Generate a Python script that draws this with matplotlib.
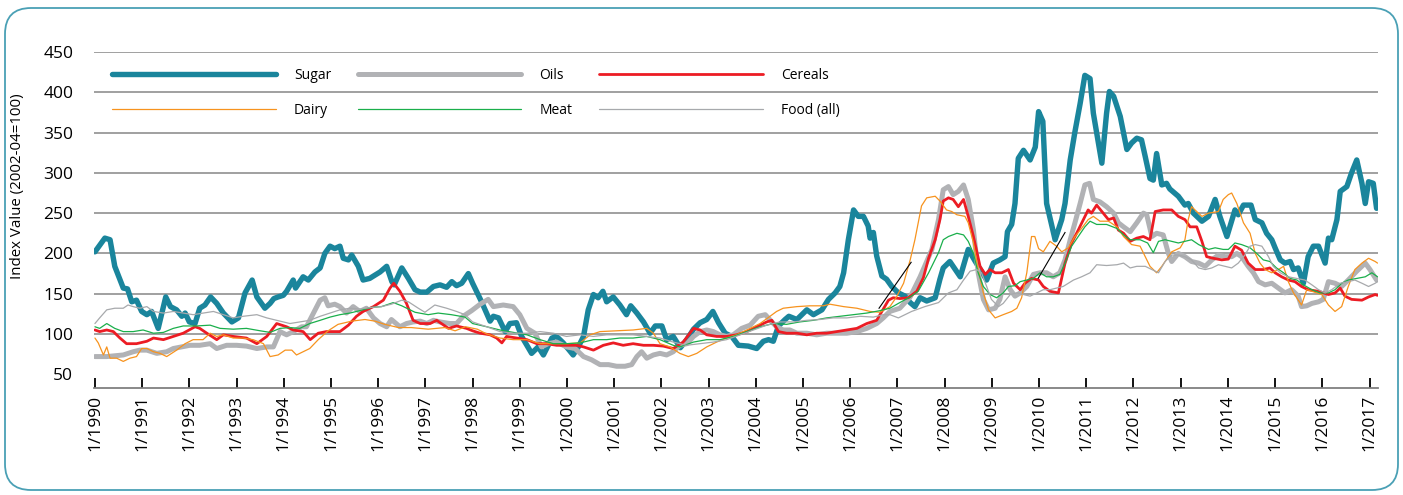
import matplotlib
matplotlib.use('Agg')
import matplotlib.pyplot as plt
from matplotlib.patches import FancyBboxPatch
from matplotlib.transforms import IdentityTransform

plt.rcParams['font.family'] = ['Open Sans', 'DejaVu Sans']

# x ticks: January of each year
years = list(range(1990, 2018))
year_labels = ['1/%d' % y for y in years]

# series (decimal year, index value)
sugar_t = [1990.0, 1990.21, 1990.32, 1990.42, 1990.6, 1990.69, 1990.78, 1990.88, 1990.99, 1991.1, 1991.2, 1991.34,
           1991.5, 1991.6, 1991.73, 1991.84, 1991.91, 1992.0, 1992.12, 1992.22, 1992.33, 1992.45, 1992.58, 1992.72,
           1992.9, 1993.04, 1993.18, 1993.33, 1993.43, 1993.6, 1993.71, 1993.79, 1993.88, 1993.99, 1994.06, 1994.2,
           1994.25, 1994.41, 1994.52, 1994.66, 1994.77, 1994.87, 1994.98, 1995.08, 1995.19, 1995.26, 1995.37, 1995.44,
           1995.58, 1995.68, 1995.82, 1996.04, 1996.18, 1996.29, 1996.34, 1996.5, 1996.64, 1996.78, 1996.89, 1997.03,
           1997.17, 1997.31, 1997.45, 1997.56, 1997.66, 1997.77, 1997.91, 1998.0, 1998.19, 1998.37, 1998.44, 1998.55,
           1998.69, 1998.79, 1998.93, 1999.04, 1999.25, 1999.39, 1999.5, 1999.68, 1999.78, 1999.92, 2000.13, 2000.24,
           2000.35, 2000.45, 2000.56, 2000.66, 2000.76, 2000.84, 2000.98, 2001.12, 2001.26, 2001.35, 2001.48, 2001.62,
           2001.76, 2001.87, 2002.01, 2002.11, 2002.25, 2002.4, 2002.54, 2002.68, 2002.82, 2002.96, 2003.09, 2003.21,
           2003.35, 2003.49, 2003.63, 2003.84, 2004.02, 2004.16, 2004.27, 2004.37, 2004.48, 2004.62, 2004.7, 2004.87,
           2005.08, 2005.22, 2005.4, 2005.54, 2005.68, 2005.78, 2005.86, 2005.96, 2006.07, 2006.17, 2006.28, 2006.38,
           2006.42, 2006.49, 2006.56, 2006.67, 2006.77, 2006.88, 2007.02, 2007.16, 2007.27, 2007.37, 2007.48, 2007.62,
           2007.8, 2007.9, 2007.97, 2008.11, 2008.33, 2008.5, 2008.65, 2008.89, 2009.03, 2009.17, 2009.28, 2009.33,
           2009.42, 2009.49, 2009.56, 2009.67, 2009.81, 2009.92, 2009.99, 2010.08, 2010.16, 2010.34, 2010.48, 2010.55,
           2010.66, 2010.76, 2010.87, 2010.97, 2011.08, 2011.15, 2011.33, 2011.43, 2011.49, 2011.58, 2011.72, 2011.86,
           2011.96, 2012.07, 2012.17, 2012.25, 2012.35, 2012.42, 2012.49, 2012.6, 2012.7, 2012.77, 2012.95, 2013.09,
           2013.16, 2013.27, 2013.45, 2013.59, 2013.73, 2013.83, 2013.98, 2014.15, 2014.22, 2014.33, 2014.49, 2014.58,
           2014.72, 2014.82, 2014.93, 2015.0, 2015.11, 2015.21, 2015.32, 2015.39, 2015.49, 2015.6, 2015.7, 2015.81,
           2015.92, 2016.06, 2016.13, 2016.2, 2016.31, 2016.38, 2016.52, 2016.62, 2016.73, 2016.84, 2016.91, 2016.98,
           2017.08, 2017.15]
sugar_v = [202, 219, 217, 184, 157, 156, 140, 142, 128, 124, 128, 107,
           146, 134, 130, 122, 126, 115, 113, 132, 136, 146, 138, 126,
           115, 120, 151, 167, 146, 132, 138, 144, 146, 148, 153, 167,
           157, 171, 167, 177, 182, 200, 209, 206, 209, 194, 192, 198,
           184, 167, 169, 177, 184, 165, 161, 182, 169, 155, 152, 152,
           159, 161, 158, 165, 160, 163, 175, 163, 140, 116, 122, 120,
           103, 113, 114, 97, 76, 84, 74, 95, 97, 89, 74, 84,
           97, 130, 149, 145, 153, 140, 146, 136, 124, 135, 126, 115,
           101, 110, 110, 93, 97, 83, 93, 106, 114, 118, 128, 114,
           101, 97, 86, 85, 82, 91, 93, 91, 110, 118, 122, 118,
           130, 124, 130, 143, 151, 159, 176, 217, 254, 246, 246, 234,
           219, 226, 197, 172, 168, 159, 151, 147, 139, 134, 145, 141,
           145, 168, 182, 190, 171, 205, 190, 167, 188, 192, 196, 227,
           236, 262, 318, 328, 316, 332, 376, 364, 262, 217, 242, 262,
           316, 351, 386, 421, 417, 374, 312, 374, 401, 395, 370, 329,
           337, 343, 341, 320, 293, 291, 324, 285, 287, 280, 271, 260,
           262, 250, 240, 246, 267, 246, 221, 254, 248, 260, 260, 242,
           238, 225, 217, 207, 192, 188, 190, 180, 182, 163, 196, 209,
           209, 188, 219, 217, 242, 277, 283, 300, 316, 287, 262, 289,
           287, 256]

oils_t = [1990.0, 1990.25, 1990.42, 1990.6, 1990.81, 1990.95, 1991.1, 1991.31, 1991.52, 1991.66, 1991.84, 1992.01,
          1992.22, 1992.44, 1992.58, 1992.79, 1993.0, 1993.21, 1993.43, 1993.64, 1993.78, 1993.92, 1994.06, 1994.2,
          1994.38, 1994.48, 1994.63, 1994.77, 1994.87, 1994.94, 1995.08, 1995.19, 1995.33, 1995.47, 1995.61, 1995.75,
          1995.9, 1996.04, 1996.18, 1996.28, 1996.46, 1996.6, 1996.74, 1996.89, 1997.03, 1997.17, 1997.31, 1997.52,
          1997.66, 1997.8, 1997.98, 1998.16, 1998.33, 1998.44, 1998.65, 1998.86, 1999.0, 1999.15, 1999.32, 1999.46,
          1999.6, 1999.78, 1999.99, 2000.17, 2000.35, 2000.52, 2000.7, 2000.88, 2001.05, 2001.23, 2001.37, 2001.48,
          2001.58, 2001.69, 2001.83, 2001.97, 2002.11, 2002.25, 2002.39, 2002.54, 2002.68, 2002.82, 2002.96, 2003.1,
          2003.24, 2003.38, 2003.52, 2003.7, 2003.88, 2004.05, 2004.2, 2004.34, 2004.44, 2004.58, 2004.72, 2004.87,
          2005.08, 2005.29, 2005.5, 2005.71, 2005.93, 2006.14, 2006.35, 2006.56, 2006.7, 2006.84, 2007.05, 2007.27,
          2007.48, 2007.73, 2007.87, 2007.97, 2008.08, 2008.18, 2008.29, 2008.4, 2008.5, 2008.61, 2008.71, 2008.82,
          2008.93, 2009.07, 2009.17, 2009.28, 2009.39, 2009.49, 2009.6, 2009.74, 2009.88, 2010.02, 2010.16, 2010.3,
          2010.44, 2010.55, 2010.66, 2010.76, 2010.87, 2010.97, 2011.07, 2011.15, 2011.29, 2011.43, 2011.58, 2011.68,
          2011.79, 2011.93, 2012.07, 2012.21, 2012.28, 2012.39, 2012.49, 2012.63, 2012.74, 2012.81, 2012.95, 2013.09,
          2013.23, 2013.38, 2013.52, 2013.66, 2013.8, 2013.94, 2014.08, 2014.19, 2014.29, 2014.43, 2014.54, 2014.65,
          2014.79, 2014.93, 2015.07, 2015.21, 2015.35, 2015.49, 2015.56, 2015.67, 2015.78, 2015.92, 2016.02, 2016.13,
          2016.27, 2016.41, 2016.55, 2016.73, 2016.91, 2017.01, 2017.15]
oils_v = [72, 72, 73, 74, 78, 80, 80, 76, 78, 82, 84, 86,
          86, 88, 82, 86, 86, 85, 82, 84, 84, 103, 99, 103,
          109, 109, 126, 142, 145, 135, 137, 134, 126, 134, 128, 132,
          120, 113, 109, 118, 109, 113, 115, 116, 113, 117, 115, 113,
          113, 122, 129, 137, 143, 134, 136, 134, 124, 107, 101, 84,
          88, 90, 84, 82, 72, 68, 62, 62, 60, 60, 62, 72,
          78, 70, 74, 76, 74, 78, 86, 88, 97, 103, 105, 103,
          99, 97, 99, 107, 111, 122, 124, 115, 109, 105, 105, 101,
          101, 99, 101, 101, 101, 103, 107, 113, 120, 128, 132, 146,
          171, 205, 242, 279, 283, 273, 277, 285, 267, 229, 176, 143,
          130, 132, 143, 171, 155, 147, 151, 159, 174, 176, 176, 171,
          176, 192, 217, 238, 262, 285, 287, 267, 264, 258, 250, 238,
          233, 227, 238, 250, 248, 221, 225, 223, 200, 190, 200, 196,
          190, 188, 184, 192, 198, 196, 196, 200, 196, 184, 176, 165,
          161, 163, 157, 151, 155, 147, 134, 135, 138, 140, 143, 165,
          163, 159, 167, 178, 188, 180, 167]

cereals_t = [1990.0, 1990.1, 1990.25, 1990.39, 1990.53, 1990.67, 1990.88, 1991.1, 1991.24, 1991.45, 1991.66, 1991.87,
             1992.12, 1992.22, 1992.37, 1992.58, 1992.72, 1992.93, 1993.21, 1993.43, 1993.64, 1993.85, 1994.06, 1994.2,
             1994.41, 1994.56, 1994.73, 1994.9, 1995.19, 1995.37, 1995.54, 1995.68, 1995.9, 1996.11, 1996.25, 1996.33,
             1996.46, 1996.6, 1996.74, 1996.89, 1997.1, 1997.24, 1997.49, 1997.66, 1997.87, 1998.0, 1998.16, 1998.37,
             1998.51, 1998.62, 1998.72, 1998.93, 1999.15, 1999.36, 1999.57, 1999.78, 2000.0, 2000.2, 2000.35, 2000.56,
             2000.77, 2000.98, 2001.19, 2001.4, 2001.62, 2001.83, 2002.04, 2002.25, 2002.46, 2002.68, 2002.82, 2002.96,
             2003.17, 2003.38, 2003.59, 2003.81, 2004.02, 2004.23, 2004.34, 2004.48, 2004.65, 2004.87, 2005.08, 2005.29,
             2005.5, 2005.71, 2005.93, 2006.14, 2006.35, 2006.56, 2006.67, 2006.81, 2006.91, 2007.05, 2007.23, 2007.41,
             2007.55, 2007.66, 2007.8, 2007.9, 2007.97, 2008.08, 2008.18, 2008.29, 2008.4, 2008.5, 2008.61, 2008.75,
             2008.86, 2008.96, 2009.07, 2009.21, 2009.35, 2009.46, 2009.6, 2009.7, 2009.84, 2009.99, 2010.09, 2010.23,
             2010.41, 2010.55, 2010.69, 2010.83, 2010.94, 2011.04, 2011.11, 2011.22, 2011.36, 2011.47, 2011.58, 2011.68,
             2011.79, 2011.93, 2012.07, 2012.21, 2012.35, 2012.46, 2012.63, 2012.81, 2012.95, 2013.09, 2013.2, 2013.34,
             2013.45, 2013.55, 2013.69, 2013.87, 2014.01, 2014.15, 2014.29, 2014.43, 2014.58, 2014.75, 2014.89, 2015.0,
             2015.14, 2015.28, 2015.42, 2015.56, 2015.7, 2015.92, 2016.13, 2016.27, 2016.38, 2016.48, 2016.62, 2016.84,
             2016.98, 2017.12, 2017.17]
cereals_v = [105, 103, 105, 103, 95, 88, 88, 91, 95, 93, 97, 101,
             109, 107, 101, 93, 99, 97, 95, 88, 97, 113, 109, 105,
             103, 93, 101, 103, 103, 111, 122, 128, 134, 142, 157, 163,
             153, 138, 117, 113, 113, 117, 107, 110, 107, 104, 101, 99,
             95, 89, 97, 95, 93, 88, 88, 86, 86, 86, 84, 80,
             86, 89, 86, 88, 86, 86, 85, 82, 90, 107, 105, 99,
             97, 97, 99, 103, 109, 115, 117, 103, 101, 101, 99, 101,
             101, 103, 105, 107, 113, 117, 128, 142, 145, 144, 145, 153,
             170, 194, 217, 242, 265, 269, 267, 258, 267, 246, 221, 184,
             174, 180, 176, 176, 180, 163, 155, 163, 169, 167, 159, 153,
             151, 188, 213, 229, 242, 254, 250, 260, 250, 242, 244, 229,
             225, 215, 219, 221, 217, 252, 254, 254, 246, 242, 233, 233,
             215, 196, 194, 192, 193, 209, 204, 188, 180, 180, 182, 176,
             171, 167, 165, 159, 155, 153, 149, 151, 157, 147, 143, 142,
             146, 149, 148]

dairy_t = [1990.0, 1990.07, 1990.18, 1990.25, 1990.32, 1990.46, 1990.6, 1990.74, 1990.88, 1990.99, 1991.1, 1991.24,
           1991.38, 1991.52, 1991.73, 1991.91, 1992.08, 1992.29, 1992.44, 1992.58, 1992.72, 1992.93, 1993.14, 1993.35,
           1993.57, 1993.71, 1993.88, 1994.03, 1994.17, 1994.27, 1994.41, 1994.55, 1994.73, 1994.94, 1995.15, 1995.44,
           1995.72, 1995.93, 1996.14, 1996.43, 1996.7, 1997.06, 1997.41, 1997.63, 1997.85, 1998.1, 1998.3, 1998.58,
           1998.86, 1999.15, 1999.43, 1999.71, 1999.99, 2000.28, 2000.49, 2000.7, 2001.05, 2001.4, 2001.69, 2001.83,
           2001.97, 2002.18, 2002.39, 2002.57, 2002.75, 2002.96, 2003.17, 2003.38, 2003.59, 2003.88, 2004.09, 2004.3,
           2004.44, 2004.58, 2004.87, 2005.15, 2005.43, 2005.57, 2005.86, 2006.14, 2006.42, 2006.63, 2006.84, 2006.98,
           2007.13, 2007.27, 2007.37, 2007.51, 2007.62, 2007.8, 2007.9, 2008.04, 2008.15, 2008.26, 2008.43, 2008.5,
           2008.61, 2008.71, 2008.82, 2008.93, 2009.07, 2009.24, 2009.42, 2009.53, 2009.63, 2009.74, 2009.84, 2009.91,
           2009.99, 2010.09, 2010.23, 2010.37, 2010.48, 2010.62, 2010.76, 2010.9, 2011.04, 2011.15, 2011.29, 2011.47,
           2011.65, 2011.79, 2011.96, 2012.14, 2012.25, 2012.35, 2012.49, 2012.6, 2012.74, 2012.81, 2012.99, 2013.09,
           2013.16, 2013.23, 2013.34, 2013.45, 2013.59, 2013.8, 2013.9, 2014.01, 2014.08, 2014.19, 2014.33, 2014.47,
           2014.58, 2014.68, 2014.79, 2014.93, 2015.07, 2015.18, 2015.28, 2015.39, 2015.56, 2015.67, 2015.78, 2015.99,
           2016.13, 2016.27, 2016.41, 2016.55, 2016.69, 2016.84, 2016.98, 2017.12, 2017.17]
dairy_v = [95, 89, 74, 84, 70, 70, 66, 70, 72, 82, 82, 78,
           76, 72, 80, 88, 93, 93, 101, 97, 99, 95, 95, 93,
           88, 72, 74, 80, 80, 74, 78, 82, 93, 104, 112, 116,
           118, 116, 112, 108, 108, 106, 108, 104, 109, 106, 100, 95,
           93, 93, 88, 88, 88, 89, 99, 103, 104, 105, 107, 101,
           88, 84, 76, 72, 76, 84, 90, 95, 99, 107, 113, 122,
           128, 132, 134, 135, 135, 137, 134, 132, 128, 127, 134, 146,
           163, 192, 217, 259, 269, 271, 265, 254, 252, 248, 246, 238,
           213, 180, 151, 130, 120, 124, 128, 132, 145, 176, 221, 221,
           206, 202, 215, 209, 202, 207, 221, 231, 242, 246, 240, 240,
           233, 221, 211, 209, 196, 184, 176, 184, 196, 202, 207, 217,
           242, 258, 252, 246, 250, 252, 267, 273, 275, 262, 238, 225,
           200, 188, 180, 176, 180, 184, 165, 151, 136, 155, 153, 149,
           136, 128, 134, 159, 180, 188, 194, 190, 188]

meat_t = [1990.0, 1990.1, 1990.25, 1990.42, 1990.6, 1990.81, 1991.02, 1991.24, 1991.45, 1991.66, 1991.87, 1992.15,
          1992.44, 1992.65, 1992.93, 1993.21, 1993.5, 1993.71, 1993.92, 1994.13, 1994.34, 1994.55, 1994.77, 1994.98,
          1995.19, 1995.4, 1995.61, 1995.86, 1996.07, 1996.32, 1996.5, 1996.78, 1997.06, 1997.27, 1997.55, 1997.84,
          1998.0, 1998.3, 1998.58, 1998.86, 1999.15, 1999.43, 1999.71, 1999.99, 2000.28, 2000.56, 2000.84, 2001.12,
          2001.4, 2001.69, 2001.97, 2002.25, 2002.39, 2002.68, 2002.96, 2003.24, 2003.52, 2003.81, 2004.09, 2004.37,
          2004.65, 2004.93, 2005.22, 2005.5, 2005.78, 2006.07, 2006.35, 2006.63, 2006.84, 2007.05, 2007.27, 2007.44,
          2007.66, 2007.87, 2007.97, 2008.08, 2008.26, 2008.4, 2008.5, 2008.61, 2008.71, 2008.82, 2008.96, 2009.1,
          2009.24, 2009.35, 2009.49, 2009.6, 2009.74, 2009.88, 2010.02, 2010.16, 2010.3, 2010.44, 2010.55, 2010.69,
          2010.83, 2010.97, 2011.08, 2011.22, 2011.43, 2011.65, 2011.79, 2011.93, 2012.14, 2012.3, 2012.42, 2012.53,
          2012.67, 2012.95, 2013.09, 2013.23, 2013.38, 2013.59, 2013.73, 2013.9, 2014.01, 2014.15, 2014.29, 2014.47,
          2014.61, 2014.75, 2014.89, 2015.03, 2015.18, 2015.32, 2015.46, 2015.6, 2015.78, 2015.95, 2016.13, 2016.27,
          2016.41, 2016.55, 2016.73, 2016.91, 2017.05, 2017.17]
meat_v = [109, 107, 113, 107, 103, 103, 105, 101, 102, 107, 110, 110,
          111, 107, 106, 107, 104, 102, 107, 108, 107, 113, 117, 121,
          124, 126, 129, 133, 134, 139, 135, 127, 124, 126, 124, 121,
          113, 109, 105, 102, 99, 93, 88, 88, 89, 93, 93, 95,
          95, 97, 93, 86, 84, 90, 93, 93, 97, 103, 109, 113,
          112, 115, 117, 120, 122, 124, 126, 129, 132, 139, 146, 153,
          176, 201, 217, 221, 225, 223, 215, 200, 176, 159, 149, 145,
          151, 159, 160, 165, 167, 169, 176, 171, 171, 174, 188, 209,
          221, 233, 240, 236, 236, 231, 223, 217, 217, 213, 201, 215,
          217, 213, 215, 217, 211, 205, 207, 205, 205, 213, 211, 207,
          200, 192, 190, 182, 176, 169, 167, 161, 155, 151, 151, 155,
          163, 167, 169, 171, 176, 171]

food_t = [1990.0, 1990.1, 1990.25, 1990.42, 1990.6, 1990.7, 1990.81, 1990.95, 1991.1, 1991.24, 1991.45, 1991.66,
          1991.87, 1992.08, 1992.29, 1992.51, 1992.72, 1992.93, 1993.14, 1993.43, 1993.64, 1993.85, 1994.13, 1994.34,
          1994.55, 1994.77, 1994.98, 1995.19, 1995.4, 1995.61, 1995.86, 1996.07, 1996.28, 1996.5, 1996.64, 1996.85,
          1996.99, 1997.2, 1997.45, 1997.66, 1997.84, 1998.0, 1998.3, 1998.58, 1998.86, 1999.15, 1999.43, 1999.71,
          1999.99, 2000.28, 2000.56, 2000.84, 2001.12, 2001.4, 2001.69, 2001.97, 2002.25, 2002.53, 2002.82, 2003.1,
          2003.38, 2003.67, 2003.95, 2004.23, 2004.51, 2004.8, 2005.08, 2005.36, 2005.64, 2005.93, 2006.21, 2006.49,
          2006.7, 2006.84, 2007.02, 2007.3, 2007.58, 2007.87, 2008.08, 2008.26, 2008.4, 2008.54, 2008.68, 2008.78,
          2008.89, 2008.99, 2009.14, 2009.24, 2009.39, 2009.53, 2009.67, 2009.81, 2009.95, 2010.09, 2010.23, 2010.37,
          2010.51, 2010.73, 2010.9, 2011.08, 2011.22, 2011.43, 2011.65, 2011.79, 2011.93, 2012.07, 2012.25, 2012.39,
          2012.53, 2012.67, 2012.81, 2012.95, 2013.09, 2013.23, 2013.38, 2013.52, 2013.66, 2013.8, 2013.94, 2014.08,
          2014.22, 2014.36, 2014.47, 2014.58, 2014.72, 2014.86, 2014.96, 2015.11, 2015.28, 2015.46, 2015.63, 2015.78,
          2015.92, 2016.06, 2016.2, 2016.38, 2016.55, 2016.69, 2016.84, 2016.98, 2017.12, 2017.17]
food_v = [113, 120, 130, 132, 132, 136, 134, 132, 134, 128, 126, 128,
          126, 124, 126, 128, 124, 120, 122, 124, 120, 117, 113, 115,
          117, 122, 126, 130, 132, 131, 133, 134, 137, 142, 140, 132,
          127, 136, 132, 128, 124, 115, 109, 103, 101, 101, 103, 101,
          97, 99, 97, 99, 99, 99, 97, 95, 90, 86, 88, 90,
          93, 99, 105, 111, 115, 115, 117, 118, 120, 120, 122, 121,
          124, 124, 120, 128, 134, 139, 151, 155, 167, 178, 180, 176,
          159, 143, 134, 138, 149, 151, 149, 147, 151, 155, 155, 157,
          159, 167, 171, 176, 186, 185, 186, 188, 182, 184, 184, 180,
          176, 190, 198, 198, 196, 192, 182, 180, 182, 186, 184, 182,
          188, 198, 209, 211, 209, 196, 184, 176, 171, 169, 167, 161,
          155, 151, 155, 163, 165, 167, 163, 159, 163, 165]

# two thin black callout strokes (start/end in data units)
callouts = [((2006.61, 132), (2007.29, 189)), ((2009.98, 169), (2010.55, 226))]

series = [
    ('Sugar', sugar_t, sugar_v, '#1a859c', 3.9),
    ('Oils', oils_t, oils_v, '#b1b2b5', 3.6),
    ('Cereals', cereals_t, cereals_v, '#ec1c24', 2.0),
    ('Dairy', dairy_t, dairy_v, '#f7931e', 0.9),
    ('Meat', meat_t, meat_v, '#1aaf4b', 0.9),
    ('Food (all)', food_t, food_v, '#a7a9ac', 0.9),
]

W, H = 1403, 495
fig = plt.figure(figsize=(W / 100, H / 100), dpi=100)
ax = fig.add_axes([94 / W, 1 - 388 / H, (1378 - 94) / W, (388 - 52) / H])

handles = {}
for name, t, v, col, lw in series:
    ln, = ax.plot(t, v, color=col, lw=lw, solid_capstyle='round', solid_joinstyle='round', label=name)
    handles[name] = ln

for (x0, y0), (x1, y1) in callouts:
    ax.plot([x0, x1], [y0, y1], color='black', lw=0.8)

ax.set_xlim(1989.98, 2017.18)
ax.set_ylim(33, 450)
ax.set_xticks(years)
ax.set_xticklabels(year_labels, rotation=90, fontsize=12.5)
ax.set_yticks(range(50, 451, 50))
ax.set_yticklabels([str(v) for v in range(50, 451, 50)], fontsize=12.5)
ax.tick_params(axis='y', length=0, pad=15)
ax.tick_params(axis='x', direction='in', length=7, width=1.3, color='black', pad=5)

ax.set_axisbelow(True)
ax.grid(axis='y', color='#999999', lw=1.3)
ax.get_ygridlines()[0].set_visible(False)
for s in ['top', 'left', 'right']:
    ax.spines[s].set_visible(False)
ax.spines['bottom'].set_color('#808080')
ax.spines['bottom'].set_linewidth(1.3)

ax.set_ylabel('Index Value (2002-04=100)', fontsize=10.8)
ax.yaxis.set_label_coords(-0.054, 0.60)

# column-major order gives rows Sugar/Oils/Cereals and Dairy/Meat/Food
order = ['Sugar', 'Dairy', 'Oils', 'Meat', 'Cereals', 'Food (all)']
ax.legend([handles[n] for n in order], order, ncol=3, loc='upper left',
          bbox_to_anchor=(0.014, 0.952), frameon=False, fontsize=10,
          handlelength=11.8, handletextpad=1.3, columnspacing=1.9,
          labelspacing=1.45, borderpad=0, borderaxespad=0)

frame = FancyBboxPatch((5, 5), 1393, 482, boxstyle='round,pad=0,rounding_size=26',
                       transform=IdentityTransform(), facecolor='none',
                       edgecolor='#4aa0b5', lw=1.3, clip_on=False)
fig.add_artist(frame)

fig.savefig('out.png', dpi=100)
